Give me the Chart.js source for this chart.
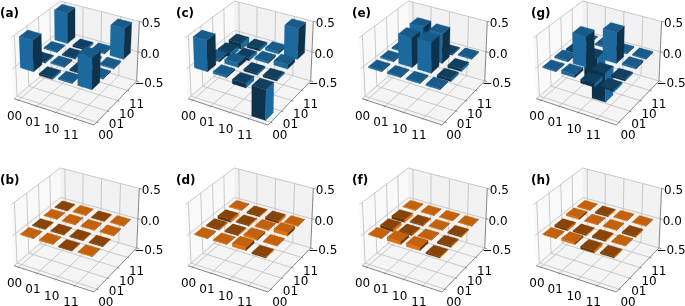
<!DOCTYPE html>
<html>
<head>
<meta charset="utf-8">
<title>Density matrices</title>
<script src="https://cdn.jsdelivr.net/npm/chart.js@4/dist/chart.umd.min.js"></script>
<style>
  html, body { margin: 0; background: #fff; overflow: hidden; }
  #wrap { position: relative; width: 685px; height: 306px; overflow: hidden; }
  canvas { position: absolute; }
</style>
</head>
<body>
<div id="wrap"></div>
<script>
// Tick labels
const basisLabels = ['00', '01', '10', '11'];
const zTicks = [-0.5, 0.0, 0.5];
const zTickLabels = ['\u22120.5', '0.0', '0.5'];

// Panel letters, top row then bottom row
const panelLetters = ['(a)', '(c)', '(e)', '(g)', '(b)', '(d)', '(f)', '(h)'];

// Bar heights, [x index][y index]
const panelA = [[0.50, -0.02, 0.02, 0.50], [-0.03, 0.02, -0.02, -0.03], [0.02, -0.02, -0.02, 0.02], [0.50, 0.02, 0.02, 0.50]];
const panelC = [[0.50, 0.04, -0.08, -0.10], [0.03, 0.07, -0.05, -0.04], [-0.07, -0.03, 0.03, 0.04], [-0.50, -0.03, 0.07, 0.50]];
const panelE = [[0.02, 0.02, 0.02, 0.01], [0.02, 0.48, 0.50, 0.02], [0.02, 0.50, 0.48, -0.02], [0.02, -0.04, -0.04, 0.02]];
const panelG = [[0.02, 0.03, -0.03, 0.02], [0.05, 0.50, -0.48, 0.02], [-0.06, -0.48, 0.50, 0.02], [-0.03, -0.03, 0.03, 0.02]];
const panelB = [[0.01, -0.01, 0.01, -0.01], [0.01, -0.01, 0.01, 0.01], [-0.01, -0.01, 0.01, -0.01], [0.01, -0.01, 0.01, 0.01]];
const panelD = [[0.01, -0.02, -0.05, 0.01], [0.01, -0.02, -0.02, -0.02], [0.05, 0.03, 0.01, -0.04], [-0.02, 0.01, 0.05, 0.01]];
const panelF = [[0.01, -0.05, -0.05, 0.01], [0.05, -0.02, -0.02, 0.01], [0.05, 0.01, 0.01, 0.01], [-0.02, -0.02, -0.02, 0.01]];
const panelH = [[0.01, -0.03, 0.03, 0.01], [0.03, -0.02, 0.01, -0.02], [-0.04, -0.02, 0.01, 0.01], [-0.02, 0.01, -0.02, 0.01]];
const panelData = [panelA, panelC, panelE, panelG, panelB, panelD, panelF, panelH];

const BLUE = [31, 119, 180];
const ORANGE = [255, 127, 14];
const GRID_COLOR = '#bcbcbc';
const AXIS_COLOR = '#666';
const FONT = '12px "DejaVu Sans"';
const FONT_BOLD = 'bold 12px "DejaVu Sans"';

// Layout of a panel
const PANEL_W = 174;
const PANEL_H = 139;
const ROW_STEP = 167;

// Bars on the unit floor
const BAR_START = 0.06;
const BAR_STEP = 0.237;
const BAR_WIDTH = 0.168;

// 3D view, same as the matplotlib default (elev 30, azim -60, dist 10)
const BOX = [1.143, 1.143, 0.857];
const DIST = 10;
const n = [0.433, -0.75, 0.5];
const u = [0.866, 0.5, 0];
const v = [-0.25, 0.433, 0.866];

function dot(a, b) {
  return a[0] * b[0] + a[1] * b[1] + a[2] * b[2];
}

// x, y and z all in 0..1 of the box
function project(x, y, z) {
  const p = [(x - 0.5) * BOX[0], (y - 0.5) * BOX[1], (z - 0.5) * BOX[2]];
  const depth = DIST - dot(p, n);
  return { x: dot(p, u) / depth, y: dot(p, v) / depth, depth };
}

function zNorm(value) {
  return value + 0.5;
}

// Scale limits so the box lands in the same place in each panel
function viewLimits(left) {
  const xl = project(0, 0, 0).x;
  const xr = project(1, 1, 0).x;
  const sx = (136.7 - 14) / (xr - xl);
  const yf = project(1, 0, 0).y;
  const yb = project(0, 1, 1).y;
  const sy = 124 / (yb - yf);
  const x0 = xl - left / sx;
  const yTop = yb + 1 / sy;
  return { xMin: x0, xMax: x0 + PANEL_W / sx, yMax: yTop, yMin: yTop - PANEL_H / sy };
}

function shade(rgb, k) {
  return `rgb(${Math.round(rgb[0] * k)}, ${Math.round(rgb[1] * k)}, ${Math.round(rgb[2] * k)})`;
}

function polygon(points, color) {
  return {
    data: points.concat([points[0]]).map(p => project(p[0], p[1], p[2])),
    showLine: true,
    fill: 'shape',
    tension: 0.0001,
    backgroundColor: color,
    borderColor: color,
    borderWidth: 0.3,
    pointRadius: 0
  };
}

function segment(a, b, color, width) {
  return {
    data: [project(a[0], a[1], a[2]), project(b[0], b[1], b[2])],
    showLine: true,
    fill: false,
    tension: 0.0001,
    borderColor: color,
    borderWidth: width,
    pointRadius: 0
  };
}

function tickPos(i) {
  return BAR_START + BAR_STEP * i;
}

// Walls, floor, grid and axis lines
function frameDatasets() {
  const out = [];
  out.push(polygon([[0, 0, 0], [0, 1, 0], [0, 1, 1], [0, 0, 1]], '#f9f9f9'));
  out.push(polygon([[0, 1, 0], [1, 1, 0], [1, 1, 1], [0, 1, 1]], '#f2f2f2'));
  out.push(polygon([[0, 0, 0], [1, 0, 0], [1, 1, 0], [0, 1, 0]], '#f5f5f5'));
  basisLabels.forEach((label, i) => {
    const t = tickPos(i);
    out.push(segment([t, 0, 0], [t, 1, 0], GRID_COLOR, 0.8));
    out.push(segment([t, 1, 0], [t, 1, 1], GRID_COLOR, 0.8));
    out.push(segment([0, t, 0], [1, t, 0], GRID_COLOR, 0.8));
    out.push(segment([0, t, 0], [0, t, 1], GRID_COLOR, 0.8));
    out.push(segment([t, 0, 0], [t, -0.02, 0], AXIS_COLOR, 0.8));
    out.push(segment([1, t, 0], [1.02, t, 0], AXIS_COLOR, 0.8));
  });
  zTicks.forEach(value => {
    const z = zNorm(value);
    out.push(segment([0, 0, z], [0, 1, z], GRID_COLOR, 0.8));
    out.push(segment([0, 1, z], [1, 1, z], GRID_COLOR, 0.8));
    out.push(segment([1, 1, z], [1.03, 1, z], AXIS_COLOR, 0.8));
  });
  out.push(segment([0, 0, 0], [1, 0, 0], AXIS_COLOR, 0.8));
  out.push(segment([1, 0, 0], [1, 1, 0], AXIS_COLOR, 0.8));
  out.push(segment([1, 1, 0], [1, 1, 1], AXIS_COLOR, 0.8));
  return out;
}

// Three visible faces of every bar, far bars first
function barDatasets(values, rgb) {
  const bars = [];
  values.forEach((row, i) => {
    row.forEach((value, j) => {
      const x0 = BAR_START + BAR_STEP * i;
      const y0 = BAR_START + BAR_STEP * j;
      const z0 = zNorm(Math.min(0, value));
      const z1 = zNorm(Math.max(0, value));
      const depth = project(x0 + BAR_WIDTH / 2, y0 + BAR_WIDTH / 2, (z0 + z1) / 2).depth;
      bars.push({ x0, y0, x1: x0 + BAR_WIDTH, y1: y0 + BAR_WIDTH, z0, z1, depth, up: value >= 0 });
    });
  });
  bars.sort((a, b) => b.depth - a.depth);

  const out = [];
  bars.forEach(b => {
    const k = b.up ? [0.767, 0.883, 0.417] : [0.533, 0.417, 0.883];
    out.push(polygon([[b.x0, b.y0, b.z0], [b.x1, b.y0, b.z0], [b.x1, b.y0, b.z1], [b.x0, b.y0, b.z1]], shade(rgb, k[1])));
    out.push(polygon([[b.x1, b.y0, b.z0], [b.x1, b.y1, b.z0], [b.x1, b.y1, b.z1], [b.x1, b.y0, b.z1]], shade(rgb, k[2])));
    out.push(polygon([[b.x0, b.y0, b.z1], [b.x1, b.y0, b.z1], [b.x1, b.y1, b.z1], [b.x0, b.y1, b.z1]], shade(rgb, k[0])));
  });
  return out;
}

// Tick labels and the panel letter
const labelPlugin = {
  id: 'panelLabels',
  afterDatasetsDraw(chart, args, opts) {
    const { ctx, scales } = chart;
    const at = p => [scales.x.getPixelForValue(p.x), scales.y.getPixelForValue(p.y)];
    ctx.save();
    ctx.fillStyle = '#000';
    ctx.font = FONT;
    ctx.textAlign = 'center';
    ctx.textBaseline = 'middle';
    basisLabels.forEach((label, i) => {
      const t = tickPos(i);
      const a = at(project(t, 0, 0));
      ctx.fillText(label, a[0] - 4, a[1] + 17);
      const b = at(project(1, t, 0));
      ctx.fillText(label, b[0] + 9, b[1] + 14);
    });
    zTicks.forEach((value, i) => {
      const c = at(project(1, 1, zNorm(value)));
      ctx.fillText(zTickLabels[i], c[0] + 12, c[1] + 3);
    });
    ctx.font = FONT_BOLD;
    ctx.textAlign = 'left';
    ctx.fillText(opts.letter, opts.letterX, opts.letterY);
    ctx.restore();
  }
};

const wrap = document.getElementById('wrap');
const boxLefts = [14, 14, 14, 14.3];
const letterXs = [0, 2, 4, 9];

panelData.forEach((values, index) => {
  const col = index % 4;
  const row = index < 4 ? 0 : 1;
  const canvas = document.createElement('canvas');
  canvas.width = PANEL_W;
  canvas.height = PANEL_H;
  canvas.style.left = (col * 174) + 'px';
  canvas.style.top = (row * ROW_STEP) + 'px';
  wrap.appendChild(canvas);

  const lim = viewLimits(boxLefts[col]);
  const datasets = frameDatasets().concat(barDatasets(values, row === 0 ? BLUE : ORANGE));
  // lowest order ends up on top, so keep the list order as paint order
  datasets.forEach((d, i) => { d.order = -i; });

  new Chart(canvas, {
    type: 'scatter',
    data: { datasets },
    plugins: [labelPlugin],
    options: {
      responsive: false,
      animation: false,
      clip: false,
      layout: { padding: 0 },
      scales: {
        x: { type: 'linear', display: false, min: lim.xMin, max: lim.xMax },
        y: { type: 'linear', display: false, min: lim.yMin, max: lim.yMax }
      },
      plugins: {
        legend: { display: false },
        tooltip: { enabled: false },
        panelLabels: { letter: panelLetters[index], letterX: letterXs[col], letterY: 14 }
      }
    }
  });
});
</script>
</body>
</html>
